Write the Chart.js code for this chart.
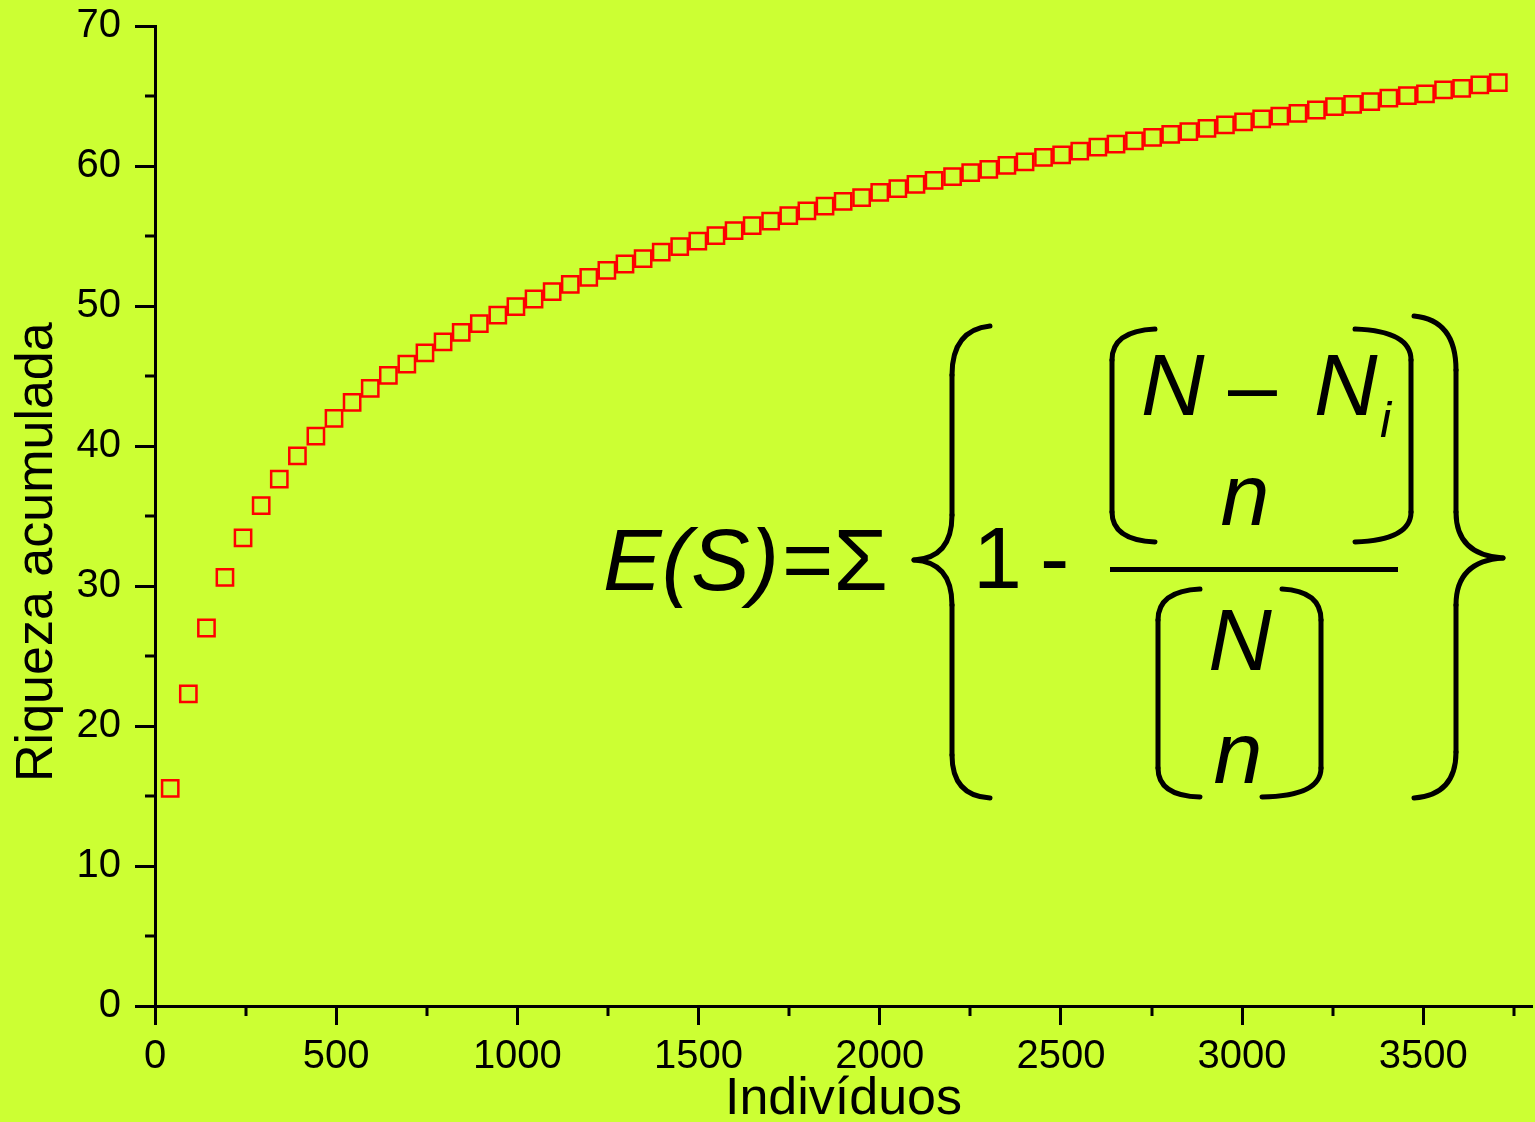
<!DOCTYPE html>
<html>
<head>
<meta charset="utf-8">
<script src="https://cdn.jsdelivr.net/npm/chart.js@4/dist/chart.umd.min.js"></script>
<style>
    html, body { margin: 0; padding: 0; background: #ccff33; }
    #chart { display: block; background: #ccff33; }
</style>
</head>
<body>
<canvas id="chart" width="1535" height="1122"></canvas>
<script>
// Rarefaction curve: sample size vs. expected richness
const individuos = [
    42, 92, 142, 193, 243, 293, 343, 393, 444, 494,
    544, 594, 644, 695, 745, 795, 845, 895, 946, 996,
    1046, 1096, 1146, 1197, 1247, 1297, 1347, 1397, 1448, 1498,
    1548, 1598, 1648, 1699, 1749, 1799, 1849, 1899, 1950, 2000,
    2050, 2100, 2150, 2201, 2251, 2301, 2351, 2401, 2452, 2502,
    2552, 2602, 2652, 2703, 2753, 2803, 2853, 2903, 2954, 3004,
    3054, 3104, 3154, 3205, 3255, 3305, 3355, 3405, 3456, 3506,
    3556, 3606, 3656, 3707
];
const riqueza = [
    15.55, 22.29, 27.0, 30.62, 33.43, 35.74, 37.64, 39.29, 40.71, 41.98,
    43.12, 44.12, 45.05, 45.84, 46.66, 47.43, 48.12, 48.74, 49.34, 49.95,
    50.5, 51.02, 51.55, 52.05, 52.55, 53.0, 53.38, 53.84, 54.24, 54.64,
    55.02, 55.38, 55.74, 56.07, 56.45, 56.79, 57.14, 57.48, 57.74, 58.12,
    58.38, 58.69, 58.98, 59.24, 59.52, 59.76, 60.05, 60.29, 60.61, 60.79,
    61.07, 61.34, 61.57, 61.79, 62.05, 62.26, 62.45, 62.69, 62.93, 63.16,
    63.36, 63.57, 63.76, 64.0, 64.24, 64.41, 64.59, 64.84, 65.02, 65.16,
    65.43, 65.55, 65.79, 65.95
];
const xTicks = [0, 500, 1000, 1500, 2000, 2500, 3000, 3500];
const xMinorTicks = [250, 750, 1250, 1750, 2250, 2750, 3250, 3750];
const yTicks = [0, 10, 20, 30, 40, 50, 60, 70];
const yMinorTicks = [5, 15, 25, 35, 45, 55, 65];

const FONT = '"Liberation Sans", Arial, sans-serif';

// Minor ticks drawn on the library scales
const minorTicksPlugin = {
    id: 'minorTicks',
    afterDraw(chart) {
        const ctx = chart.ctx;
        const xs = chart.scales.x;
        const ys = chart.scales.y;
        ctx.save();
        ctx.strokeStyle = '#000';
        ctx.lineWidth = 3;
        ctx.beginPath();
        xMinorTicks.forEach(v => {
            const px = Math.round(xs.getPixelForValue(v));
            ctx.moveTo(px, ys.bottom);
            ctx.lineTo(px, ys.bottom + 10);
        });
        yMinorTicks.forEach(v => {
            const py = Math.round(ys.getPixelForValue(v));
            ctx.moveTo(xs.left, py);
            ctx.lineTo(xs.left - 10, py);
        });
        ctx.stroke();
        ctx.restore();
    }
};

// Formula annotation E(S)
const formulaPlugin = {
    id: 'formula',
    afterDraw(chart) {
        const ctx = chart.ctx;
        ctx.save();
        ctx.fillStyle = '#000';
        ctx.strokeStyle = '#000';
        ctx.lineWidth = 5;
        ctx.lineCap = 'round';
        ctx.textBaseline = 'alphabetic';
        ctx.textAlign = 'left';

        ctx.font = 'italic 88px ' + FONT;
        ctx.fillText('E(S)', 603, 590);
        ctx.font = '88px ' + FONT;
        ctx.fillText('=\u03A3', 782, 590);
        ctx.fillText('1', 973, 588);
        ctx.fillText('-', 1040, 588);

        // fraction line
        ctx.fillRect(1110, 567, 288, 5);

        // numerator
        ctx.font = 'italic 88px ' + FONT;
        ctx.fillText('N', 1141, 415);
        ctx.fillText('N', 1314, 415);
        ctx.font = '88px ' + FONT;
        ctx.fillText('\u2013', 1228, 415);
        ctx.font = 'italic 50px ' + FONT;
        ctx.fillText('i', 1380, 437);
        ctx.font = 'italic 88px ' + FONT;
        ctx.textAlign = 'center';
        ctx.fillText('n', 1245, 525);

        // denominator
        ctx.fillText('N', 1240, 670);
        ctx.fillText('n', 1238, 783);

        // brackets
        function path(points) {
            ctx.beginPath();
            ctx.moveTo(points[0], points[1]);
            for (let i = 2; i < points.length; i += 4) {
                ctx.quadraticCurveTo(points[i], points[i + 1], points[i + 2], points[i + 3]);
            }
            ctx.stroke();
        }
        function line(x1, y1, x2, y2) {
            ctx.beginPath();
            ctx.moveTo(x1, y1);
            ctx.lineTo(x2, y2);
            ctx.stroke();
        }
        // numerator left bracket
        path([1155, 329, 1112, 331, 1112, 360]);
        line(1112, 360, 1112, 512);
        path([1112, 512, 1112, 540, 1155, 542]);
        // numerator right bracket
        path([1355, 329, 1411, 331, 1411, 360]);
        line(1411, 360, 1411, 512);
        path([1411, 512, 1411, 540, 1355, 542]);
        // denominator left bracket
        path([1200, 589, 1158, 591, 1158, 620]);
        line(1158, 620, 1158, 768);
        path([1158, 768, 1158, 796, 1200, 797]);
        // denominator right bracket
        path([1282, 589, 1321, 591, 1321, 620]);
        line(1321, 620, 1321, 768);
        path([1321, 768, 1321, 796, 1262, 797]);

        // left brace
        path([990, 326, 952, 330, 952, 375]);
        line(952, 375, 952, 515);
        path([952, 515, 952, 558, 914, 560]);
        path([914, 560, 952, 562, 952, 605]);
        line(952, 605, 952, 755);
        path([952, 755, 952, 796, 990, 798]);
        // right brace
        path([1414, 316, 1456, 320, 1456, 370]);
        line(1456, 370, 1456, 512);
        path([1456, 512, 1456, 555, 1503, 558]);
        path([1503, 558, 1456, 561, 1456, 605]);
        line(1456, 605, 1456, 752);
        path([1456, 752, 1456, 795, 1414, 798]);

        ctx.restore();
    }
};

const points = individuos.map((x, i) => ({ x: x, y: riqueza[i] }));

new Chart(document.getElementById('chart'), {
    type: 'scatter',
    data: {
        datasets: [{
            label: 'Riqueza',
            data: points,
            pointStyle: 'rect',
            pointRadius: 11.5,
            pointHoverRadius: 11.5,
            borderColor: '#ff0000',
            backgroundColor: 'rgba(0,0,0,0)',
            borderWidth: 2.5
        }]
    },
    options: {
        responsive: false,
        animation: false,
        events: [],
        layout: { autoPadding: false, padding: { top: 26, right: 3, left: 0, bottom: 0 } },
        plugins: {
            legend: { display: false },
            tooltip: { enabled: false }
        },
        scales: {
            x: {
                type: 'linear',
                min: 0,
                max: 3800,
                afterBuildTicks: function(scale) {
                    scale.ticks = xTicks.map(v => ({ value: v }));
                },
                afterFit: function(scale) {
                    scale.height = 116;
                    scale.paddingLeft = 0;
                    scale.paddingRight = 0;
                },
                ticks: {
                    color: '#000',
                    font: { family: FONT, size: 40 },
                    padding: 8,
                    maxRotation: 0,
                    callback: function(value) { return String(value); }
                },
                grid: {
                    drawOnChartArea: false,
                    drawTicks: true,
                    tickLength: 19,
                    tickWidth: 3,
                    tickColor: '#000'
                },
                border: { display: true, color: '#000', width: 3 },
                title: {
                    display: true,
                    text: 'Indivíduos',
                    color: '#000',
                    font: { family: FONT, size: 52, lineHeight: 0.85 },
                    padding: { top: 0, bottom: 0 }
                }
            },
            y: {
                type: 'linear',
                min: 0,
                max: 70,
                afterBuildTicks: function(scale) {
                    scale.ticks = yTicks.map(v => ({ value: v }));
                },
                afterFit: function(scale) {
                    scale.width = 155;
                    scale.paddingTop = 0;
                    scale.paddingBottom = 0;
                },
                ticks: {
                    color: '#000',
                    font: { family: FONT, size: 40 },
                    padding: 14,
                    callback: function(value) { return String(value); }
                },
                grid: {
                    drawOnChartArea: false,
                    drawTicks: true,
                    tickLength: 20,
                    tickWidth: 3,
                    tickColor: '#000'
                },
                border: { display: true, color: '#000', width: 3 },
                title: {
                    display: true,
                    // trailing spaces push the label down a little, as in the original
                    text: 'Riqueza acumulada     ',
                    color: '#000',
                    font: { family: FONT, size: 52, lineHeight: 1.0 },
                    padding: { top: 12, bottom: 0 }
                }
            }
        }
    },
    plugins: [minorTicksPlugin, formulaPlugin]
});
</script>
</body>
</html>
